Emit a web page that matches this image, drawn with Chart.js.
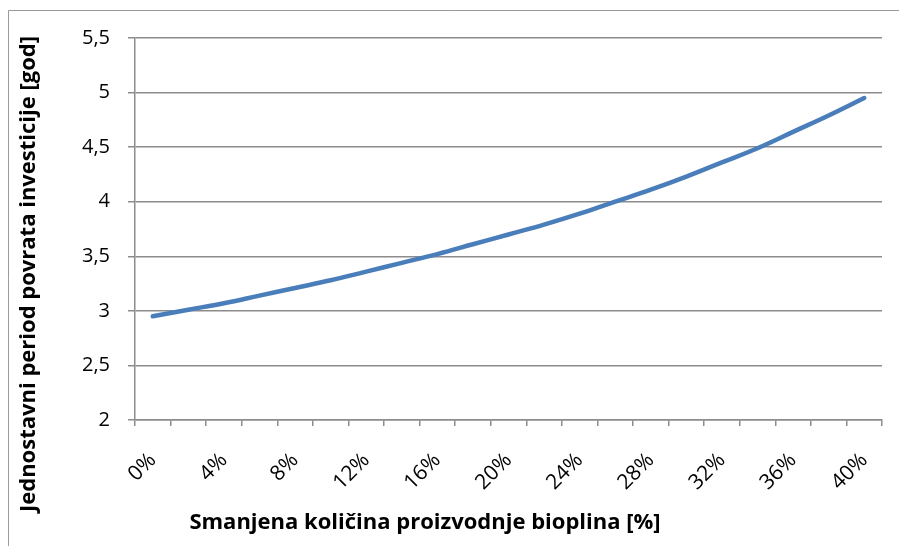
<!DOCTYPE html>
<html>
<head>
<meta charset="utf-8">
<script src="https://cdn.jsdelivr.net/npm/chart.js@4"></script>
<style>
  body { margin: 0; background: #fff; }
  #wrap { position: relative; width: 899px; height: 546px; }
</style>
</head>
<body>
<div id="wrap"><canvas id="payback" width="899" height="546"></canvas></div>
<script>
// reduction of biogas production, 0% .. 40% in 2% steps
const reduction = ['0%','2%','4%','6%','8%','10%','12%','14%','16%','18%','20%',
                   '22%','24%','26%','28%','30%','32%','34%','36%','38%','40%'];
// simple payback period [years]
const payback = [2.95, 3.01, 3.07, 3.14, 3.21, 3.28, 3.36, 3.44, 3.52, 3.61, 3.70,
                 3.79, 3.89, 4.00, 4.11, 4.23, 4.36, 4.49, 4.64, 4.79, 4.95];
const yTicks = [2, 2.5, 3, 3.5, 4, 4.5, 5, 5.5];

const xTitle = 'Smanjena količina proizvodnje bioplina [%]';
const yTitle = 'Jednostavni period povrata investicije [god]';

const gridColor = '#8c8c8c';
const fontFamily = '"Open Sans", sans-serif';

// frame lines + both axis titles drawn by hand so they can sit off-centre
const decorations = {
    id: 'decorations',
    beforeDraw(chart) {
        const ctx = chart.ctx;
        ctx.save();
        ctx.strokeStyle = '#9a9a9a';
        ctx.lineWidth = 1;
        ctx.beginPath();
        ctx.moveTo(8.5, 546);
        ctx.lineTo(8.5, 10.5);
        ctx.lineTo(899, 10.5);
        ctx.stroke();
        ctx.restore();
    },
    afterDraw(chart) {
        const ctx = chart.ctx;
        ctx.save();
        ctx.fillStyle = '#000';
        ctx.font = 'bold 22px ' + fontFamily;
        ctx.textAlign = 'center';
        ctx.textBaseline = 'middle';
        ctx.fillText(xTitle, 425, 523);

        ctx.translate(29, 274);
        ctx.rotate(-Math.PI / 2);
        ctx.fillText(yTitle, 0, 0);
        ctx.restore();
    }
};

const ctx = document.getElementById('payback').getContext('2d');
const chart = new Chart(ctx, {
    type: 'line',
    data: {
        labels: reduction,
        datasets: [{
            data: payback,
            borderColor: '#4a7ebb',
            borderWidth: 4.5,
            borderCapStyle: 'round',
            pointRadius: 0,
            tension: 0.4,
            fill: false
        }]
    },
    options: {
        responsive: false,
        animation: false,
        layout: {
            padding: { left: 0, right: 17, top: 38, bottom: 0 }
        },
        plugins: {
            legend: { display: false },
            tooltip: { enabled: false }
        },
        scales: {
            x: {
                type: 'category',
                offset: true,
                afterFit: function(scale) {
                    scale.height = 126;
                    // rotated labels must not push the plot edges inwards
                    scale.paddingLeft = 0;
                    scale.paddingRight = 0;
                },
                border: { display: true, color: gridColor, width: 1.5 },
                grid: {
                    offset: true,
                    drawOnChartArea: false,
                    drawTicks: true,
                    tickLength: 6,
                    color: gridColor,
                    lineWidth: 1.5
                },
                ticks: {
                    autoSkip: false,
                    maxRotation: 45,
                    minRotation: 45,
                    padding: 22,
                    color: '#000',
                    font: { family: fontFamily, size: 21 },
                    callback: function(value, index) {
                        // only every second category gets a label
                        return index % 2 === 0 ? reduction[index] : '';
                    }
                }
            },
            y: {
                min: 2,
                max: 5.5,
                afterFit: function(scale) { scale.width = 135; },
                afterBuildTicks: function(scale) {
                    scale.ticks = yTicks.map(v => ({ value: v }));
                },
                border: { display: true, color: gridColor, width: 1.5 },
                grid: {
                    color: gridColor,
                    lineWidth: 1.5,
                    drawTicks: true,
                    tickLength: 7
                },
                ticks: {
                    padding: 18,
                    color: '#000',
                    font: { family: fontFamily, size: 20 },
                    callback: function(value) {
                        return String(value).replace('.', ',');
                    }
                }
            }
        }
    },
    plugins: [decorations]
});
</script>
</body>
</html>
